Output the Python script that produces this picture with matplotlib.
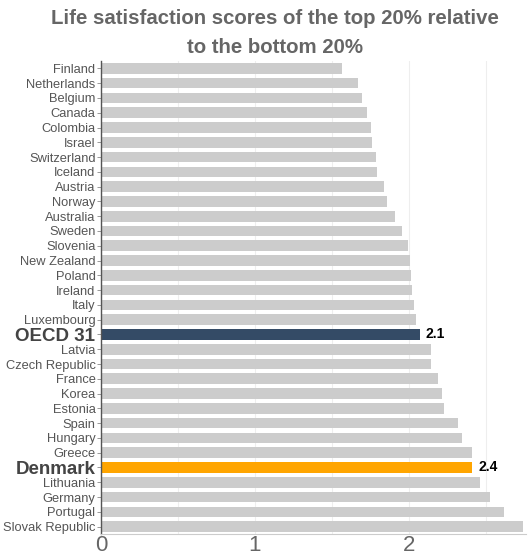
import matplotlib
matplotlib.use("Agg")
from matplotlib import pyplot as plt

plt.rcParams['font.family'] = ['Liberation Sans', 'DejaVu Sans']

countries = ['Finland', 'Netherlands', 'Belgium', 'Canada', 'Colombia', 'Israel',
             'Switzerland', 'Iceland', 'Austria', 'Norway', 'Australia', 'Sweden',
             'Slovenia', 'New Zealand', 'Poland', 'Ireland', 'Italy', 'Luxembourg',
             'OECD 31', 'Latvia', 'Czech Republic', 'France', 'Korea', 'Estonia',
             'Spain', 'Hungary', 'Greece', 'Denmark', 'Lithuania', 'Germany',
             'Portugal', 'Slovak Republic']
values = [1.567, 1.671, 1.693, 1.729, 1.755, 1.760, 1.784, 1.795, 1.836, 1.857,
          1.911, 1.957, 1.994, 2.006, 2.013, 2.022, 2.030, 2.045, 2.069, 2.141,
          2.145, 2.186, 2.216, 2.225, 2.316, 2.344, 2.407, 2.409, 2.461, 2.528,
          2.619, 2.742]
highlight = {'OECD 31': '#344b66', 'Denmark': '#ffa500'}

fig = plt.figure(figsize=(5.28, 5.56), dpi=100)
ax = fig.add_axes([101 / 528, 22 / 556, 425 / 528, 473 / 556])

ypos = list(range(len(countries)))
colors = [highlight.get(c, '#cccccc') for c in countries]
ax.barh(ypos, values, height=0.72, color=colors, zorder=2)

for y, c, v in zip(ypos, countries, values):
    if c in highlight:
        ax.text(v + 0.04, y, f'{v:.1f}', va='center', ha='left',
                fontsize=10, fontweight='bold', color='black')

ax.set_ylim(len(countries) - 0.5, -0.5)
ax.set_xlim(0, 2.76)
ax.set_yticks(ypos)
ax.set_yticklabels(countries)
for lab in ax.get_yticklabels():
    if lab.get_text() in highlight:
        lab.set_fontsize(13.5)
        lab.set_fontweight('bold')
        lab.set_color('#444444')
    else:
        lab.set_fontsize(9.3)
        lab.set_color('#555555')

ax.set_xticks([0, 1, 2])
ax.set_xticks([0.5, 1.5, 2.5], minor=True)
ax.tick_params(axis='x', which='both', length=0, labelsize=16, labelcolor='#666666', pad=1)
ax.tick_params(axis='y', length=3, width=0.6, color='#888888', pad=1)
ax.grid(axis='x', which='both', color='#eeeeee', linewidth=0.8, zorder=0)

for s in ['top', 'right']:
    ax.spines[s].set_visible(False)
ax.spines['left'].set_color('#555555')
ax.spines['left'].set_linewidth(1.0)
ax.spines['bottom'].set_color('#cccccc')
ax.spines['bottom'].set_linewidth(0.8)

fig.text(0.52, 0.966, 'Life satisfaction scores of the top 20% relative',
         ha='center', va='center', fontsize=14.7, fontweight='bold', color='#666666')
fig.text(0.52, 0.914, 'to the bottom 20%',
         ha='center', va='center', fontsize=14.7, fontweight='bold', color='#666666')

fig.savefig('out.png', dpi=100)
